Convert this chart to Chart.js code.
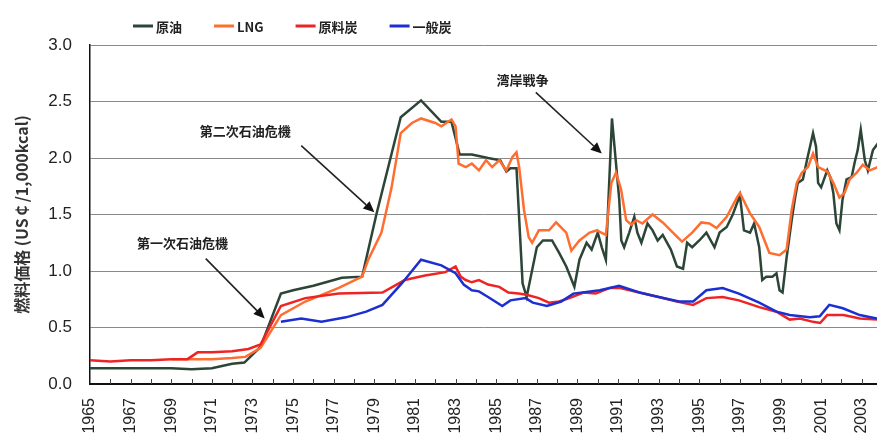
<!DOCTYPE html>
<html lang="ja">
<head>
<meta charset="utf-8">
<title>燃料価格の推移</title>
<script src="https://cdn.jsdelivr.net/npm/chart.js@4.4.1/dist/chart.umd.min.js"></script>
<style>
  html, body { margin: 0; padding: 0; background: #fff; }
  #wrap { position: relative; width: 877px; height: 435px; }
</style>
</head>
<body>
<div id="wrap"><canvas id="chart" width="877" height="435"></canvas></div>
<script>
// 原油
const crudeYears = [1965, 1966, 1967, 1968, 1969, 1970, 1971, 1972, 1972.6, 1973.4, 1974.4, 1975, 1976, 1977.4, 1978.4, 1979.1, 1980.3, 1981.3, 1982.3, 1982.8,
  1983.2, 1983.8, 1984.6, 1985.2, 1985.5, 1985.7, 1986.0, 1986.1, 1986.3, 1986.5, 1987.0, 1987.3, 1987.75, 1988.1, 1988.45, 1988.85, 1989.1, 1989.45, 1989.7, 1990.0,
  1990.2, 1990.4, 1990.7, 1991.06, 1991.16, 1991.3, 1991.55, 1991.8, 1991.95, 1992.15, 1992.45, 1992.7, 1992.95, 1993.2, 1993.6, 1993.9, 1994.2, 1994.4, 1994.65, 1995.0,
  1995.35, 1995.75, 1996.0, 1996.35, 1996.65, 1997.0, 1997.2, 1997.5, 1997.7, 1997.95, 1998.1, 1998.3, 1998.6, 1998.8, 1998.95, 1999.1, 1999.3, 1999.55, 1999.7, 1999.85,
  2000.1, 2000.3, 2000.45, 2000.6, 2000.75, 2000.85, 2001.0, 2001.3, 2001.45, 2001.6, 2001.75, 2001.9, 2002.05, 2002.25, 2002.5, 2002.65, 2002.8, 2002.95, 2003.15, 2003.3,
  2003.55, 2003.8];
const crudeVals = [0.14, 0.14, 0.14, 0.14, 0.14, 0.13, 0.14, 0.18, 0.19, 0.33, 0.80, 0.83, 0.87, 0.94, 0.95, 1.50, 2.36, 2.51, 2.32, 2.32,
  2.03, 2.03, 2.00, 1.98, 1.88, 1.91, 1.91, 1.57, 0.89, 0.77, 1.21, 1.27, 1.27, 1.16, 1.04, 0.86, 1.10, 1.25, 1.19, 1.34,
  1.21, 1.10, 2.35, 1.63, 1.27, 1.21, 1.34, 1.48, 1.34, 1.25, 1.42, 1.36, 1.27, 1.32, 1.19, 1.04, 1.02, 1.25, 1.21, 1.27,
  1.34, 1.21, 1.34, 1.39, 1.50, 1.67, 1.36, 1.34, 1.42, 1.21, 0.92, 0.95, 0.95, 0.98, 0.83, 0.81, 1.12, 1.45, 1.63, 1.78,
  1.81, 1.98, 2.10, 2.22, 2.10, 1.78, 1.74, 1.89, 1.83, 1.69, 1.42, 1.36, 1.63, 1.81, 1.83, 1.96, 2.07, 2.25, 1.98, 1.89,
  2.07, 2.13];

// LNG
const lngYears = [1969, 1970, 1971, 1972, 1972.65, 1973.4, 1974.4, 1975.6, 1977.25, 1978.4, 1978.7, 1979.35, 1979.85, 1980.3, 1980.85, 1981.3, 1982.0, 1982.3, 1982.8, 1983.0,
  1983.15, 1983.5, 1983.8, 1984.15, 1984.5, 1984.8, 1985.15, 1985.5, 1985.8, 1986.0, 1986.13, 1986.37, 1986.6, 1986.77, 1987.1, 1987.6, 1987.95, 1988.45, 1988.7, 1989.1,
  1989.6, 1989.95, 1990.4, 1990.67, 1990.9, 1991.15, 1991.4, 1991.65, 1991.9, 1992.2, 1992.7, 1993.2, 1993.7, 1994.15, 1994.65, 1995.1, 1995.5, 1995.85, 1996.35, 1996.85,
  1997.0, 1997.5, 1997.95, 1998.45, 1998.95, 1999.3, 1999.55, 1999.8, 2000.05, 2000.35, 2000.6, 2000.85, 2001.3, 2001.6, 2001.9, 2002.15, 2002.4, 2002.75, 2003.05, 2003.4,
  2003.8];
const lngVals = [0.22, 0.22, 0.22, 0.23, 0.24, 0.32, 0.61, 0.73, 0.85, 0.95, 1.10, 1.34, 1.74, 2.22, 2.31, 2.35, 2.31, 2.28, 2.34, 2.28,
  1.95, 1.92, 1.95, 1.89, 1.98, 1.92, 1.98, 1.89, 2.01, 2.05, 1.92, 1.54, 1.30, 1.25, 1.36, 1.36, 1.43, 1.34, 1.18, 1.27,
  1.34, 1.36, 1.32, 1.78, 1.87, 1.72, 1.45, 1.41, 1.45, 1.42, 1.50, 1.43, 1.34, 1.26, 1.34, 1.43, 1.42, 1.38, 1.48, 1.65,
  1.69, 1.51, 1.39, 1.16, 1.14, 1.19, 1.54, 1.78, 1.87, 1.92, 2.04, 1.92, 1.88, 1.78, 1.65, 1.69, 1.81, 1.87, 1.94, 1.89,
  1.92];

// 原料炭
const cokingYears = [1965, 1966, 1967, 1968, 1969, 1969.8, 1970.3, 1971, 1972, 1972.8, 1973.4, 1974.4, 1975.6, 1977.25, 1979.4, 1980.5, 1981.5, 1982.5, 1983.0, 1983.25,
  1983.5, 1983.8, 1984.15, 1984.6, 1985.15, 1985.6, 1986.1, 1986.5, 1987.1, 1987.6, 1988.1, 1988.6, 1989.3, 1989.9, 1990.6, 1991.1, 1992.05, 1993.0, 1993.9, 1994.7,
  1995.35, 1996.15, 1996.95, 1997.95, 1998.8, 1999.45, 1999.95, 2000.6, 2000.95, 2001.3, 2002.1, 2002.9, 2003.75];
const cokingVals = [0.21, 0.20, 0.21, 0.21, 0.22, 0.22, 0.28, 0.28, 0.29, 0.31, 0.35, 0.69, 0.76, 0.80, 0.81, 0.92, 0.96, 0.99, 1.04, 0.95,
  0.92, 0.90, 0.92, 0.88, 0.86, 0.81, 0.80, 0.79, 0.76, 0.72, 0.73, 0.76, 0.81, 0.80, 0.85, 0.85, 0.81, 0.77, 0.73, 0.70,
  0.76, 0.77, 0.74, 0.68, 0.64, 0.57, 0.58, 0.55, 0.54, 0.61, 0.61, 0.58, 0.57];

// 一般炭
const steamYears = [1974.4, 1975.4, 1976.4, 1977.6, 1978.6, 1979.4, 1980.35, 1981.3, 1982.3, 1983.0, 1983.4, 1983.8, 1984.15, 1984.6, 1985.3, 1985.7, 1986.45, 1986.8, 1987.5, 1988.2,
  1988.8, 1990.1, 1991.05, 1992.05, 1993.0, 1994.0, 1994.7, 1995.35, 1996.15, 1996.95, 1997.95, 1998.8, 1999.45, 2000.44, 2000.93, 2001.4, 2002.07, 2002.9, 2003.75];
const steamVals = [0.55, 0.58, 0.55, 0.59, 0.64, 0.70, 0.89, 1.10, 1.05, 0.98, 0.88, 0.83, 0.82, 0.77, 0.69, 0.74, 0.76, 0.72, 0.69, 0.73,
  0.80, 0.83, 0.87, 0.81, 0.77, 0.73, 0.73, 0.83, 0.85, 0.80, 0.72, 0.64, 0.61, 0.59, 0.60, 0.70, 0.67, 0.61, 0.58];

const yearMin = 1965;
const yearMax = 2003.75;

// 注記（年, 価格）
const notes = [
  { text: '第一次石油危機', at: [1969.55, 1.25], from: [1970.7, 1.11], to: [1973.6, 0.58] },
  { text: '第二次石油危機', at: [1972.65, 2.24], from: [1975.4, 2.11], to: [1979.0, 1.52] },
  { text: '湾岸戦争', at: [1986.3, 2.69], from: [1986.95, 2.58], to: [1990.2, 2.04] }
];

const toPoints = (xs, ys) => xs.map((x, i) => ({ x, y: ys[i] }));

const JP_FONT = '"Noto Sans CJK JP", "Noto Sans", sans-serif';

function line(label, color, xs, ys, order) {
  return {
    label, order,
    data: toPoints(xs, ys),
    borderColor: color,
    borderWidth: 2.5,
    pointRadius: 0,
    tension: 0,
    fill: false
  };
}

// 目盛り（毎年、内向き）
const yearTicks = {
  id: 'yearTicks',
  afterDraw(chart) {
    const { ctx, chartArea, scales: { x } } = chart;
    ctx.save();
    ctx.strokeStyle = '#444';
    ctx.lineWidth = 1;
    for (let yr = Math.ceil(x.min) + 1; yr <= x.max; yr++) {
      const px = Math.round(x.getPixelForValue(yr)) + 0.5;
      ctx.beginPath();
      ctx.moveTo(px, chartArea.bottom);
      ctx.lineTo(px, chartArea.bottom - 5);
      ctx.stroke();
    }
    ctx.restore();
  }
};

// 凡例
const topLegend = {
  id: 'topLegend',
  afterDraw(chart) {
    const { ctx } = chart;
    ctx.save();
    ctx.font = `bold 13px ${JP_FONT}`;
    ctx.textBaseline = 'middle';
    let x = 133;
    const y = 26;
    chart.data.datasets.forEach(ds => {
      ctx.strokeStyle = ds.borderColor;
      ctx.lineWidth = 3;
      ctx.beginPath();
      ctx.moveTo(x, y);
      ctx.lineTo(x + 20, y);
      ctx.stroke();
      ctx.fillStyle = '#222';
      ctx.fillText(ds.label, x + 23, y + 1);
      x += 23 + ctx.measureText(ds.label).width + 32;
    });
    ctx.restore();
  }
};

// 矢印付き注記
const arrowNotes = {
  id: 'arrowNotes',
  afterDatasetsDraw(chart) {
    const { ctx, scales: { x, y } } = chart;
    ctx.save();
    ctx.font = `bold 13px ${JP_FONT}`;
    ctx.textAlign = 'center';
    ctx.textBaseline = 'middle';
    notes.forEach(n => {
      ctx.fillStyle = '#222';
      ctx.fillText(n.text, x.getPixelForValue(n.at[0]), y.getPixelForValue(n.at[1]));
      const x0 = x.getPixelForValue(n.from[0]), y0 = y.getPixelForValue(n.from[1]);
      const x1 = x.getPixelForValue(n.to[0]), y1 = y.getPixelForValue(n.to[1]);
      const ang = Math.atan2(y1 - y0, x1 - x0);
      const head = 11, half = 5;
      const bx = x1 - head * Math.cos(ang), by = y1 - head * Math.sin(ang);
      ctx.strokeStyle = '#222';
      ctx.lineWidth = 1.6;
      ctx.beginPath();
      ctx.moveTo(x0, y0);
      ctx.lineTo(bx, by);
      ctx.stroke();
      ctx.fillStyle = '#111';
      ctx.beginPath();
      ctx.moveTo(x1, y1);
      ctx.lineTo(bx + half * Math.sin(ang), by - half * Math.cos(ang));
      ctx.lineTo(bx - half * Math.sin(ang), by + half * Math.cos(ang));
      ctx.closePath();
      ctx.fill();
    });
    ctx.restore();
  }
};

new Chart(document.getElementById('chart'), {
  type: 'line',
  data: {
    datasets: [
      line('原油', '#2c4536', crudeYears, crudeVals, 4),
      line('LNG', '#ff6e30', lngYears, lngVals, 3),
      line('原料炭', '#ee2424', cokingYears, cokingVals, 2),
      line('一般炭', '#1c2fd0', steamYears, steamVals, 1)
    ]
  },
  options: {
    responsive: false,
    animation: false,
    devicePixelRatio: 1,
    layout: { padding: { top: 45, right: 0, bottom: 0, left: 0 } },
    plugins: {
      legend: { display: false },
      tooltip: { enabled: false }
    },
    scales: {
      x: {
        type: 'linear',
        min: yearMin,
        max: yearMax,
        afterFit: s => { s.height = 51; s.paddingLeft = 0; s.paddingRight = 0; },
        grid: { display: false, drawTicks: false },
        border: { display: true, color: '#111', width: 2 },
        ticks: {
          stepSize: 1,
          autoSkip: false,
          includeBounds: false,
          maxRotation: 90,
          minRotation: 90,
          padding: 14,
          color: '#222',
          font: { family: '"Liberation Sans", Arial, sans-serif', size: 16 },
          callback: v => (Number.isInteger(v) && v % 2 === 1 ? String(v) : '')
        }
      },
      y: {
        min: 0,
        max: 3,
        afterFit: s => { s.width = 90; },
        grid: { color: '#8a8a8a', lineWidth: 1, drawTicks: false },
        border: { display: true, color: '#111', width: 1.5 },
        ticks: {
          stepSize: 0.5,
          padding: 18,
          color: '#222',
          font: { family: '"Liberation Sans", Arial, sans-serif', size: 17 },
          callback: v => v.toFixed(1)
        },
        title: {
          display: true,
          text: '燃料価格 (US￠/1,000kcal)',
          color: '#333',
          padding: { top: 12, bottom: 0 },
          font: { family: JP_FONT, size: 16, weight: 'bold' }
        }
      }
    }
  },
  plugins: [yearTicks, topLegend, arrowNotes]
});
</script>
</body>
</html>
